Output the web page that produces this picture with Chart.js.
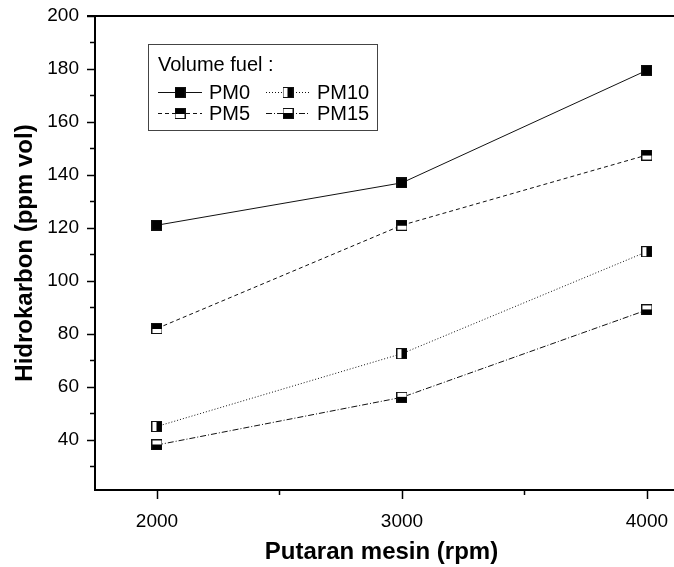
<!DOCTYPE html>
<html>
<head>
<meta charset="utf-8">
<script src="https://cdn.jsdelivr.net/npm/chart.js@4.4.1/dist/chart.umd.min.js"></script>
<style>
  html, body { margin: 0; padding: 0; background: #fff; }
  #wrap { width: 674px; height: 567px; }
</style>
</head>
<body>
<div id="wrap"><canvas id="hcChart" width="674" height="567"></canvas></div>
<script>
// engine speed (rpm) and hydrocarbon readings (ppm vol) per fuel mix
var rpm = [2000, 3000, 4000];
var pm0 = [121, 137, 179.5];
var pm5 = [82, 121, 147.5];
var pm10 = [45, 72.5, 111];
var pm15 = [38, 56, 89];
var seriesNames = ['PM0', 'PM5', 'PM10', 'PM15'];
var xTickValues = [2000, 2500, 3000, 3500, 4000];
var yTickValues = [30, 40, 50, 60, 70, 80, 90, 100, 110, 120, 130, 140, 150, 160, 170, 180, 190, 200];

var FONT = '"Liberation Sans", Arial, sans-serif';

// half-filled square markers like the original plot
function makeMarker(kind) {
  var s = 11;
  var c = document.createElement('canvas');
  c.width = s; c.height = s;
  var g = c.getContext('2d');
  g.fillStyle = '#fff';
  g.fillRect(0, 0, s, s);
  g.fillStyle = '#000';
  if (kind === 'full') g.fillRect(0, 0, s, s);
  if (kind === 'top') g.fillRect(0, 0, s, 6);
  if (kind === 'right') g.fillRect(5, 0, 6, s);
  if (kind === 'bottom') g.fillRect(0, 5, s, 6);
  g.strokeStyle = '#111';
  g.lineWidth = 1;
  g.strokeRect(0.5, 0.5, s - 1, s - 1);
  return c;
}

function toPoints(vals) {
  return vals.map(function (v, i) { return { x: rpm[i], y: v }; });
}

var markers = [makeMarker('full'), makeMarker('top'), makeMarker('right'), makeMarker('bottom')];
var dashes = [[], [4, 3], [1, 2], [6, 2, 1, 2]];
var values = [pm0, pm5, pm10, pm15];

var datasets = values.map(function (vals, i) {
  return {
    label: seriesNames[i],
    data: toPoints(vals),
    borderColor: '#111',
    borderWidth: 1,
    borderDash: dashes[i],
    pointStyle: markers[i],
    pointRadius: 5,
    pointHoverRadius: 5,
    fill: false,
    tension: 0
  };
});

// tick marks, frame lines and the boxed legend
var framePlugin = {
  id: 'frame',
  afterDraw: function (chart) {
    var ctx = chart.ctx;
    var a = chart.chartArea;
    var xs = chart.scales.x, ys = chart.scales.y;
    ctx.save();
    ctx.strokeStyle = '#000';
    ctx.lineWidth = 2;
    ctx.beginPath();
    ctx.moveTo(a.left - 8, a.top);
    ctx.lineTo(chart.width, a.top);
    ctx.moveTo(a.right, a.bottom);
    ctx.lineTo(chart.width, a.bottom);
    ctx.stroke();
    ctx.lineWidth = 1.5;
    xTickValues.forEach(function (v) {
      var px = Math.round(xs.getPixelForValue(v)) + 0.5;
      var len = v % 1000 === 0 ? 9 : 5;
      ctx.beginPath();
      ctx.moveTo(px, a.bottom);
      ctx.lineTo(px, a.bottom + len);
      ctx.stroke();
    });
    yTickValues.forEach(function (v) {
      var py = Math.round(ys.getPixelForValue(v)) + 0.5;
      var len = v % 20 === 0 ? 8 : 5;
      ctx.beginPath();
      ctx.moveTo(a.left, py);
      ctx.lineTo(a.left - len, py);
      ctx.stroke();
    });

    // legend box
    var bx = 148, by = 44, bw = 229, bh = 86;
    ctx.lineWidth = 1;
    ctx.strokeStyle = '#444';
    ctx.strokeRect(bx + 0.5, by + 0.5, bw, bh);
    ctx.fillStyle = '#000';
    ctx.font = '20px ' + FONT;
    ctx.textBaseline = 'middle';
    ctx.textAlign = 'left';
    ctx.fillText('Volume fuel :', 158, 65);
    var slots = [
      { ds: 0, x: 158, y: 92 }, { ds: 2, x: 266, y: 92 },
      { ds: 1, x: 158, y: 113 }, { ds: 3, x: 266, y: 113 }
    ];
    slots.forEach(function (s) {
      var d = chart.data.datasets[s.ds];
      ctx.strokeStyle = '#111';
      ctx.lineWidth = 1;
      ctx.setLineDash(d.borderDash);
      ctx.beginPath();
      ctx.moveTo(s.x, s.y + 0.5);
      ctx.lineTo(s.x + 44, s.y + 0.5);
      ctx.stroke();
      ctx.setLineDash([]);
      ctx.drawImage(d.pointStyle, s.x + 22 - 5.5, s.y - 5);
      ctx.fillStyle = '#000';
      ctx.fillText(d.label, s.x + 51, s.y + 1);
    });
    ctx.restore();
  }
};

var ctx = document.getElementById('hcChart').getContext('2d');
var chart = new Chart(ctx, {
  type: 'line',
  data: { datasets: datasets },
  options: {
    responsive: false,
    animation: false,
    devicePixelRatio: 1,
    layout: { padding: { top: 16, right: 0, left: 0, bottom: 0 } },
    plugins: {
      legend: { display: false },
      tooltip: { enabled: false }
    },
    scales: {
      x: {
        type: 'linear',
        min: 1747,
        max: 4086,
        afterBuildTicks: function (scale) {
          scale.ticks = xTickValues.map(function (v) { return { value: v }; });
        },
        afterFit: function (scale) {
          scale.height = 77;
          scale.paddingLeft = 0;
          scale.paddingRight = 0;
        },
        grid: { display: false },
        border: { display: true, color: '#000', width: 2 },
        ticks: {
          autoSkip: false,
          maxRotation: 0,
          padding: 12,
          color: '#000',
          font: { family: FONT, size: 19 },
          callback: function (v) { return v % 1000 === 0 ? String(v) : ''; }
        },
        title: {
          display: true,
          text: 'Putaran mesin (rpm)',
          color: '#000',
          font: { family: FONT, size: 24, weight: 'bold' },
          padding: { top: 0, bottom: 0 }
        }
      },
      y: {
        min: 21,
        max: 200,
        afterBuildTicks: function (scale) {
          scale.ticks = yTickValues.map(function (v) { return { value: v }; });
        },
        afterFit: function (scale) {
          scale.width = 95;
          scale.paddingTop = 0;
          scale.paddingBottom = 0;
        },
        grid: { display: false },
        border: { display: true, color: '#000', width: 2 },
        ticks: {
          autoSkip: false,
          padding: 8,
          color: '#000',
          font: { family: FONT, size: 19 },
          callback: function (v) { return (v % 20 === 0 && v >= 40) ? String(v) : ''; }
        },
        title: {
          display: true,
          text: 'Hidrokarbon (ppm vol)',
          color: '#000',
          font: { family: FONT, size: 24, weight: 'bold' },
          padding: { top: 11, bottom: 0 }
        }
      }
    }
  },
  plugins: [framePlugin]
});
</script>
</body>
</html>
